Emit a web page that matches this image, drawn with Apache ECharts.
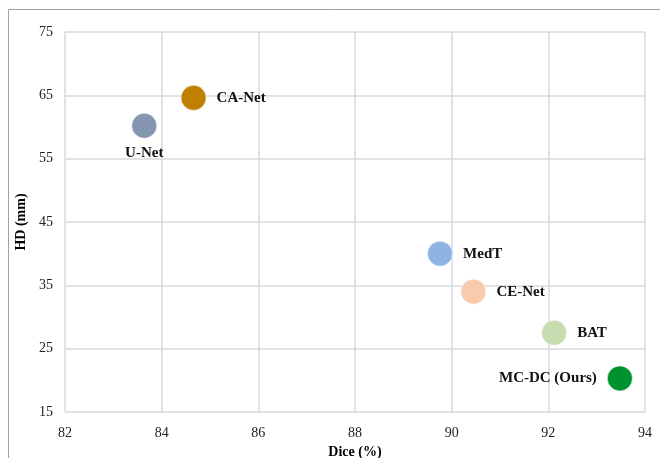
<!DOCTYPE html>
<html><head><meta charset="utf-8">
<script src="https://cdn.jsdelivr.net/npm/echarts@6/dist/echarts.min.js"></script>
<style>html,body{margin:0;padding:0;background:#fff}#c{width:660px;height:458px}</style>
</head><body><div id="c"></div>
<script>
const methods = ['U-Net','CA-Net','MedT','CE-Net','BAT','MC-DC (Ours)'];
const dice = [83.64, 84.66, 89.76, 90.45, 92.12, 93.48];
const hd = [60.2, 64.6, 40.0, 34.0, 27.5, 20.3];
const colors = ['#8496B0','#BF8000','#8DB4E2','#F8CBAD','#C5DBB0','#00922E'];
const labelPos = ['bottom','right','right','right','right','left'];
const xTicks = [82,84,86,88,90,92,94];
const yTicks = [15,25,35,45,55,65,75];

const font = 'Liberation Serif';
const chart = echarts.init(document.getElementById('c'));
chart.setOption({
  animation:false,
  graphic:[{type:'rect',shape:{x:8.5,y:9.5,width:700,height:500},style:{fill:'none',stroke:'#a0a0a0',lineWidth:1},z:-1}],
  grid:{left:65,top:32,right:15,bottom:46,containLabel:false,outerBoundsMode:'none'},
  xAxis:{type:'value',min:xTicks[0],max:xTicks[xTicks.length-1],interval:2,
    name:'Dice (%)',nameLocation:'middle',nameGap:31,
    nameTextStyle:{fontFamily:font,fontWeight:'bold',fontSize:14,color:'#000'},
    axisLine:{show:false},axisTick:{show:false},
    axisLabel:{fontFamily:font,fontSize:14,color:'#222',margin:14},
    splitLine:{show:true,lineStyle:{color:'#d9d9d9',width:1.5}}},
  yAxis:{type:'value',min:yTicks[0],max:yTicks[yTicks.length-1],interval:10,
    name:'HD (mm)',nameLocation:'middle',nameGap:35,
    nameTextStyle:{fontFamily:font,fontWeight:'bold',fontSize:14,color:'#000'},
    axisLine:{show:false},axisTick:{show:false},
    axisLabel:{fontFamily:font,fontSize:14,color:'#222',margin:12},
    splitLine:{show:true,lineStyle:{color:'#d9d9d9',width:1.5}}},
  series:[{
    type:'scatter',symbolSize:25,
    data:methods.map((m,i)=>({name:m,value:[dice[i],hd[i]],
      itemStyle:{color:colors[i],borderColor:'rgba(255,255,255,0.5)',borderWidth:1,opacity:1},
      label:{show:true,position:labelPos[i],formatter:m,distance:labelPos[i]==='bottom'?7:10,
        fontFamily:font,fontWeight:'bold',fontSize:15,color:'#111'}}))
  }]
});
</script></body></html>
